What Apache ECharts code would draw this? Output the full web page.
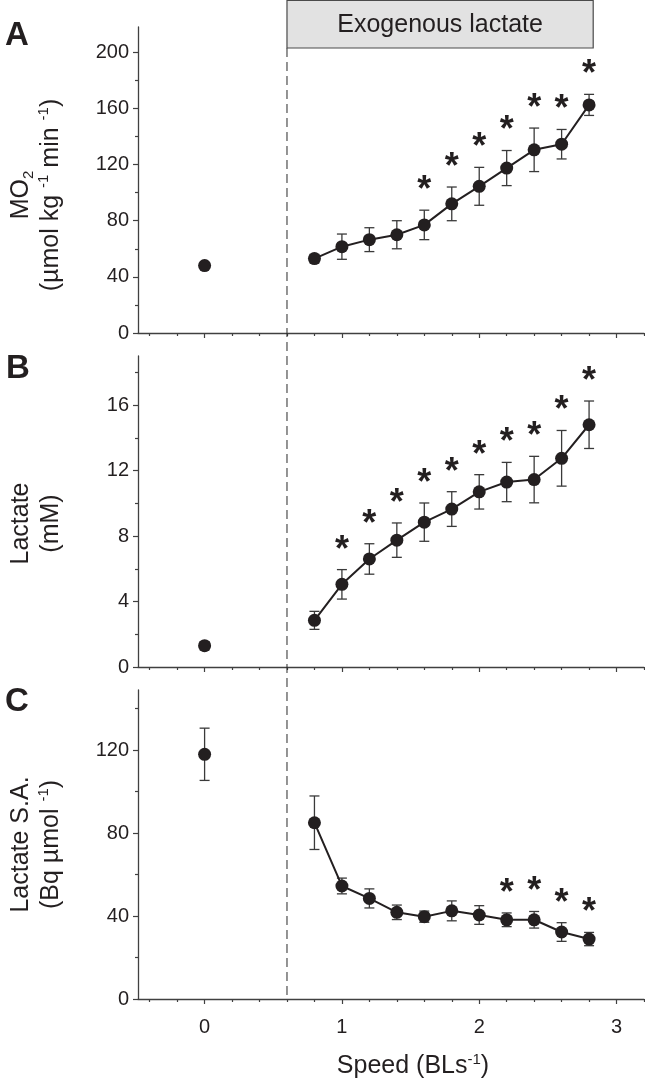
<!DOCTYPE html>
<html><head><meta charset="utf-8">
<script src="https://cdn.jsdelivr.net/npm/echarts@6/dist/echarts.min.js"></script>
<style>html,body{margin:0;padding:0;background:#fff}#c{width:645px;height:1087px}</style>
</head><body><div id="c"></div>
<script>
// ---- data ----
const speeds = [0.8, 1.0, 1.2, 1.4, 1.6, 1.8, 2.0, 2.2, 2.4, 2.6, 2.8];
const restSpeed = [0];

const mo2Mean = [53, 61.5, 66.5, 70, 77, 92, 104.5, 117.5, 130.5, 134.5, 162.5];
const mo2Err  = [3, 9, 8.5, 10, 10.5, 12, 13.5, 12.5, 15.5, 10.5, 7.5];
const mo2Sig  = [0, 0, 0, 0, 1, 1, 1, 1, 1, 1, 1];
const mo2Rest = [48];
const mo2RestErr = [1.5];

const lacMean = [2.85, 5.05, 6.6, 7.75, 8.85, 9.65, 10.7, 11.3, 11.45, 12.75, 14.8];
const lacErr  = [0.55, 0.9, 0.93, 1.05, 1.17, 1.06, 1.05, 1.2, 1.42, 1.7, 1.45];
const lacSig  = [0, 1, 1, 1, 1, 1, 1, 1, 1, 1, 1];
const lacRest = [1.3];
const lacRestErr = [0.25];

const saMean = [85, 54.5, 48.5, 41.8, 39.7, 42.5, 40.5, 38.2, 38.2, 32.3, 28.9];
const saErr  = [12.9, 3.8, 4.6, 3.5, 2.7, 4.8, 4.5, 3.3, 4.0, 4.5, 3.2];
const saSig  = [0, 0, 0, 0, 0, 0, 0, 1, 1, 1, 1];
const saRest = [118];
const saRestErr = [12.6];

const xMajorTicks = [0, 1, 2, 3];
const xMinorTicks = [-0.4, -0.2, 0.2, 0.4, 0.6, 0.8, 1.2, 1.4, 1.6, 1.8, 2.2, 2.4, 2.6, 2.8, 3.2];
const aMajorTicks = [0, 40, 80, 120, 160, 200];
const aMinorTicks = [20, 60, 100, 140, 180];
const bMajorTicks = [0, 4, 8, 12, 16];
const bMinorTicks = [2, 6, 10, 14, 18];
const cMajorTicks = [0, 40, 80, 120];
const cMinorTicks = [20, 60, 100, 140];

const lactateStart = 0.6;   // exogenous lactate infusion starts here (x units)
const lactateBoxEnd = 2.83;

// ---- style ----
const FONT = '"Liberation Sans", Arial, Helvetica, sans-serif';
const INK = '#231f20';
const AXIS = '#404040';

const grids = [
  { left: 138, width: 506, top: 27, height: 306 },
  { left: 138, width: 506, top: 356, height: 311 },
  { left: 138, width: 506, top: 690, height: 309 }
];
const yMax = [218, 19, 149];
const yMajor = [aMajorTicks, bMajorTicks, cMajorTicks];
const yMinor = [aMinorTicks, bMinorTicks, cMinorTicks];

const yRich = {
  a: { fontSize: 25, fontFamily: FONT, color: INK, lineHeight: 30 },
  sup: { fontSize: 15, fontFamily: FONT, color: INK, verticalAlign: 'top', lineHeight: 18 },
  sub: { fontSize: 15, fontFamily: FONT, color: INK, verticalAlign: 'bottom', lineHeight: 20 }
};
const xRich = {
  a: { fontSize: 25, fontFamily: FONT, color: INK, lineHeight: 28 },
  sup: { fontSize: 15, fontFamily: FONT, color: INK, verticalAlign: 'top', lineHeight: 14 }
};
const yNames = [
  '{a|MO}{sub|2}\n{a|(µmol kg }{sup|-1}{a| min }{sup|-1}{a|)}',
  '{a|Lactate}\n{a|(mM)}',
  '{a|Lactate S.A.}\n{a|(Bq µmol }{sup|-1}{a|)}'
];
const yNamePad = [[0, 30, 0, 0], [0, 24, 0, 0], [0, 0, 0, 0]];

const xAxes = [], yAxes = [], series = [];
grids.forEach((g, i) => {
  const isLast = i === 2;
  xAxes.push({
    gridIndex: i, type: 'value', position: 'bottom', min: -0.485, max: 3.2,
    axisLine: { show: true, onZero: false, lineStyle: { color: AXIS, width: 1.3 } },
    axisTick: { show: true, customValues: xMajorTicks, length: 5, lineStyle: { color: AXIS, width: 1.2 } },
    axisLabel: { show: isLast, customValues: xMajorTicks, margin: 18, fontSize: 20, fontFamily: FONT, color: INK },
    splitLine: { show: false },
    name: isLast ? '{a|Speed (BLs}{sup|-1}{a|)}' : '',
    nameLocation: 'middle', nameGap: 53,
    nameTextStyle: { rich: xRich, padding: [0, 0, 0, 44] }
  });
  xAxes.push({
    gridIndex: i, type: 'value', position: 'bottom', offset: 0, min: -0.485, max: 3.2,
    axisLine: { show: false, onZero: false },
    axisTick: { show: true, customValues: xMinorTicks, length: 3, lineStyle: { color: AXIS, width: 1.2 } },
    axisLabel: { show: false }, splitLine: { show: false }
  });
  yAxes.push({
    gridIndex: i, type: 'value', position: 'left', min: 0, max: yMax[i],
    axisLine: { show: true, onZero: false, lineStyle: { color: AXIS, width: 1.3 } },
    axisTick: { show: true, customValues: yMajor[i], length: 5, lineStyle: { color: AXIS, width: 1.2 } },
    axisLabel: { show: true, customValues: yMajor[i], margin: 9, fontSize: 20, fontFamily: FONT, color: INK },
    splitLine: { show: false },
    name: yNames[i], nameLocation: 'middle', nameRotate: 90, nameGap: 72,
    nameTextStyle: { rich: yRich, padding: yNamePad[i] }
  });
  yAxes.push({
    gridIndex: i, type: 'value', position: 'left', offset: 0, min: 0, max: yMax[i],
    axisLine: { show: false, onZero: false },
    axisTick: { show: true, customValues: yMinor[i], length: 3, lineStyle: { color: AXIS, width: 1.2 } },
    axisLabel: { show: false }, splitLine: { show: false }
  });
});

const panels = [
  { mean: mo2Mean, err: mo2Err, sig: mo2Sig, rest: mo2Rest, restErr: mo2RestErr },
  { mean: lacMean, err: lacErr, sig: lacSig, rest: lacRest, restErr: lacRestErr },
  { mean: saMean, err: saErr, sig: saSig, rest: saRest, restErr: saRestErr }
];

function renderErr(params, api) {
  const x = api.value(0), m = api.value(1), e = api.value(2), s = api.value(3);
  const top = api.coord([x, m + e]);
  const bot = api.coord([x, m - e]);
  const cw = 5;
  const ls = { stroke: '#3a3a3a', lineWidth: 1.3 };
  const children = [
    { type: 'line', shape: { x1: top[0], y1: top[1], x2: bot[0], y2: bot[1] }, style: ls },
    { type: 'line', shape: { x1: top[0] - cw, y1: top[1], x2: top[0] + cw, y2: top[1] }, style: ls },
    { type: 'line', shape: { x1: bot[0] - cw, y1: bot[1], x2: bot[0] + cw, y2: bot[1] }, style: ls }
  ];
  if (s) {
    children.push({
      type: 'text',
      style: {
        text: '*', x: top[0], y: top[1] - 24 + 5,
        align: 'center', verticalAlign: 'middle',
        textAlign: 'center', textVerticalAlign: 'middle',
        font: 'bold 36px ' + FONT, fill: INK
      }
    });
  }
  return { type: 'group', children };
}

panels.forEach((p, i) => {
  const errData = speeds.map((x, k) => [x, p.mean[k], p.err[k], p.sig[k]])
    .concat(restSpeed.map((x, k) => [x, p.rest[k], p.restErr[k], 0]));
  series.push({
    type: 'custom', xAxisIndex: 2 * i, yAxisIndex: 2 * i, z: 2,
    renderItem: renderErr, data: errData, silent: true, clip: false
  });
  series.push({
    type: 'line', xAxisIndex: 2 * i, yAxisIndex: 2 * i, z: 3,
    data: speeds.map((x, k) => [x, p.mean[k]]),
    symbol: 'circle', symbolSize: 13, showSymbol: true,
    itemStyle: { color: INK, opacity: 1 }, lineStyle: { color: INK, width: 2 },
    animation: false, silent: true
  });
  series.push({
    type: 'scatter', xAxisIndex: 2 * i, yAxisIndex: 2 * i, z: 3,
    data: restSpeed.map((x, k) => [x, p.rest[k]]),
    symbol: 'circle', symbolSize: 13, itemStyle: { color: INK, opacity: 1 },
    animation: false, silent: true
  });
});

const chart = echarts.init(document.getElementById('c'), null, { renderer: 'canvas' });
chart.setOption({
  animation: false,
  backgroundColor: '#fff',
  grid: grids,
  xAxis: xAxes,
  yAxis: yAxes,
  series: series
});

// reference line and infusion box, positioned from the axis scale
const xLine = chart.convertToPixel({ xAxisIndex: 0 }, lactateStart);
const xBoxEnd = chart.convertToPixel({ xAxisIndex: 0 }, lactateBoxEnd);
const yBottom = chart.convertToPixel({ yAxisIndex: 4 }, 0);
const boxTop = 0.5, boxBottom = 48;
chart.setOption({
  graphic: [
    { type: 'line', z: 1, shape: { x1: xLine, y1: boxBottom, x2: xLine, y2: yBottom },
      style: { stroke: '#2a2a2a', lineWidth: 1, lineDash: [9, 5] } },
    { type: 'rect', z: 10, shape: { x: xLine, y: boxTop, width: xBoxEnd - xLine, height: boxBottom - boxTop },
      style: { fill: '#e2e2e2', stroke: '#4a4a4a', lineWidth: 1.2 } },
    { type: 'text', z: 11, x: (xLine + xBoxEnd) / 2, y: boxBottom / 2 + 1,
      style: { text: 'Exogenous lactate', font: '25px ' + FONT, fill: INK, align: 'center', verticalAlign: 'middle' } },
    { type: 'text', z: 11, x: 5, y: 19, style: { text: 'A', font: 'bold 33px ' + FONT, fill: INK } },
    { type: 'text', z: 11, x: 6, y: 352, style: { text: 'B', font: 'bold 33px ' + FONT, fill: INK } },
    { type: 'text', z: 11, x: 5, y: 685, style: { text: 'C', font: 'bold 33px ' + FONT, fill: INK } }
  ]
});
</script>
</body></html>
